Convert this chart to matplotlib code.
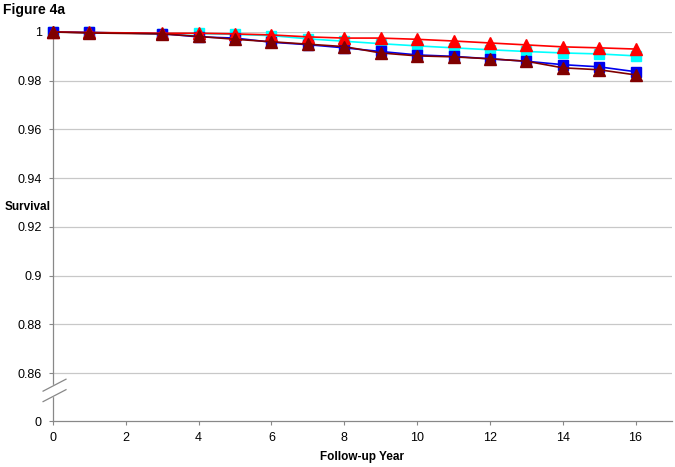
import numpy as np
import matplotlib.pyplot as plt

plt.rcParams['font.family'] = ['Liberation Sans', 'DejaVu Sans']

years = [0, 1, 3, 4, 5, 6, 7, 8, 9, 10, 11, 12, 13, 14, 15, 16]

blue_sq = [1.0, 0.9998, 0.9993, 0.998, 0.9975, 0.9958, 0.9948, 0.9935, 0.992, 0.9906,
           0.990, 0.989, 0.988, 0.9866, 0.9857, 0.9837]
cyan_sq = [1.0, 0.9998, 0.9993, 0.9994, 0.999, 0.9985, 0.9972, 0.9962, 0.9952, 0.9943,
           0.9935, 0.9927, 0.992, 0.9914, 0.991, 0.9902]
red_tri = [1.0, 0.9998, 0.9995, 0.9995, 0.9992, 0.9988, 0.998, 0.9975, 0.9975, 0.997,
           0.9963, 0.9955, 0.9947, 0.9939, 0.9935, 0.993]
maroon_tri = [1.0, 0.9996, 0.9992, 0.9982, 0.997, 0.996, 0.995, 0.994, 0.9914, 0.9902,
              0.9898, 0.989, 0.988, 0.9853, 0.9845, 0.9824]

y_ticks = [0.86, 0.88, 0.9, 0.92, 0.94, 0.96, 0.98, 1.0]
y_tick_labels = ['0.86', '0.88', '0.9', '0.92', '0.94', '0.96', '0.98', '1']
zero_pos = 0.86 - 0.0196   # where "0" sits below the axis break
x_ticks = [0, 2, 4, 6, 8, 10, 12, 14, 16]

fig = plt.figure(figsize=(6.75, 4.67), dpi=100)
ax = fig.add_axes([0.0785, 0.0985, 0.917, 0.833])

grid_c = '#c8c8c8'
for v in y_ticks:
    ax.axhline(v, color=grid_c, lw=0.9, zorder=0)

ax.plot(years, cyan_sq, color='#00ffff', lw=1.2, marker='s', ms=7.5, clip_on=False, zorder=3)
ax.plot(years, blue_sq, color='#0000ee', lw=1.2, marker='s', ms=7.5, clip_on=False, zorder=3)
ax.plot(years, red_tri, color='#ff0000', lw=1.2, marker='^', ms=8.5, clip_on=False, zorder=4)
ax.plot(years, maroon_tri, color='#800000', lw=1.2, marker='^', ms=8.5, clip_on=False, zorder=4)

ax.set_xlim(0, 17)
ax.set_ylim(zero_pos, 1.0)
ax.set_xticks(x_ticks)
ax.set_yticks([zero_pos] + y_ticks)
ax.set_yticklabels(['0'] + y_tick_labels)
ax.tick_params(axis='both', labelsize=9, colors='#000000', length=3, width=0.8,
               color='#888888', pad=5)

for s in ['top', 'right']:
    ax.spines[s].set_visible(False)
for s in ['left', 'bottom']:
    ax.spines[s].set_color('#888888')
    ax.spines[s].set_linewidth(0.9)

# axis break marks
trans = ax.get_yaxis_transform()
b1, b2 = 0.8551, 0.8508
ax.fill_between([-0.005, 0.005], [b2, b2], [b1, b1], color='white', transform=trans,
                clip_on=False, zorder=5)
for b in (b1, b2):
    ax.plot([-0.016, 0.021], [b - 0.00245, b + 0.00245], color='#888888', lw=0.9,
            transform=trans, clip_on=False, zorder=6)

fig.text(0.004, 0.979, 'Figure 4a', fontsize=10, fontweight='bold', va='center')
fig.text(0.007, 1 - 207 / 467, 'Survival', fontsize=8.5, fontweight='bold', va='center')
fig.text(0.536, 1 - 457 / 467, 'Follow-up Year', fontsize=8.5, fontweight='bold',
         ha='center', va='center')

fig.savefig('out.png', dpi=100)
